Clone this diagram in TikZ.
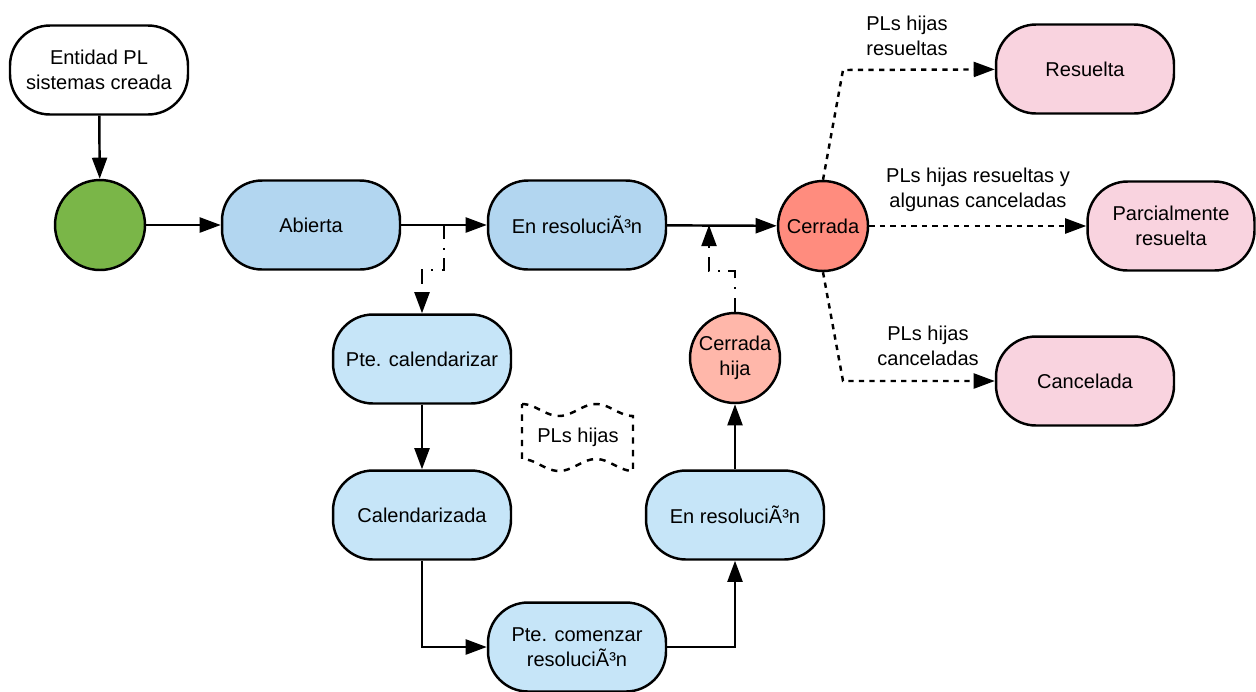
\documentclass[tikz,border=0pt]{standalone}
\usepackage{fontspec}
\setmainfont{Liberation Sans}
\usetikzlibrary{arrows.meta}
\definecolor{verde}{HTML}{7AB648}
\definecolor{azul}{HTML}{B2D6F0}
\definecolor{azulclaro}{HTML}{C6E5F8}
\definecolor{rojo}{HTML}{FF8C7E}
\definecolor{rojoclaro}{HTML}{FFB7AA}
\definecolor{rosa}{HTML}{F9D3DF}
\begin{document}
\begin{tikzpicture}[x=0.02cm, y=-0.02cm, line width=1.4pt,
        every node/.style={font=\fontsize{11.4}{14}\selectfont, align=center},
        estado/.style={draw, rounded corners=0.8cm, minimum width=3.56cm, minimum height=1.78cm},
        circulo/.style={draw, circle, minimum size=1.8cm, inner sep=0pt},
        flecha/.style={-{Triangle[length=12pt,width=8.5pt]}},
        punteado/.style={flecha, dash pattern=on 3pt off 3pt},
        rayapunto/.style={flecha, dash pattern=on 8pt off 5pt on 1pt off 5pt}]
        \useasboundingbox (0,0) rectangle (1256,691);
        \node[estado] (entidad) at (99,70) {Entidad PL\\sistemas creada};
        \node[circulo, fill=verde] (inicio) at (100,225) {};
        \node[estado, fill=azul] (abierta) at (311,225) {Abierta};
        \node[estado, fill=azul] (enres) at (577,225) {En resoluciÃ³n};
        \node[circulo, fill=rojo] (cerrada) at (823,226) {Cerrada};
        \node[estado, fill=rosa] (resuelta) at (1085,69) {Resuelta};
        \node[estado, fill=rosa, minimum width=3.34cm] (parcial) at (1171,226) {Parcialmente\\resuelta};
        \node[estado, fill=rosa] (cancelada) at (1085,381) {Cancelada};
        \node[estado, fill=azulclaro] (ptecal) at (422,359) {Pte. calendarizar};
        \node[estado, fill=azulclaro] (calend) at (422,515) {Calendarizada};
        \node[estado, fill=azulclaro] (ptecom) at (577,647) {Pte. comenzar\\resoluciÃ³n};
        \node[estado, fill=azulclaro] (enres2) at (735,515) {En resoluciÃ³n};
        \node[circulo, fill=rojoclaro] (hija) at (735,358) {Cerrada\\hija};
        \draw[dash pattern=on 3.6pt off 3.6pt]
            plot[domain=522:633, samples=40] (\x, {410-6*cos(4.865*(\x-522))}) --
            plot[domain=633:522, samples=40] (\x, {465-6*cos(4.865*(\x-522))}) -- cycle;
        \node (hijas) at (578,437) {PLs hijas};
        \coordinate (j1) at (444,225);
        \coordinate (j2) at (709,225);
        \coordinate (kr) at (843,70);
        \coordinate (kc) at (843,381);
        \draw[flecha] (entidad) -- (inicio);
        \draw[flecha] (inicio) -- (abierta);
        \draw[flecha] (abierta) -- (enres);
        \draw[flecha] (enres) -- (cerrada);
        \draw[rayapunto] (j1) -- ++(0,45) -| (ptecal);
        \draw[rayapunto] (hija) -- ++(0,-87) -| (j2);
        \draw[flecha] (ptecal) -- (calend);
        \draw[flecha] (calend) |- (ptecom);
        \draw[flecha] (ptecom) -| (enres2);
        \draw[flecha] (enres2) -- (hija);
        \draw[punteado] (cerrada.north) -- (kr) -- (resuelta);
        \draw[punteado] (cerrada) -- (parcial);
        \draw[punteado] (cerrada.south) -- (kc) -- (cancelada);
        \node (etq1) at (907,36) {PLs hijas\\resueltas};
        \node (etq2) at (978,190) {PLs hijas resueltas y\\algunas canceladas};
        \node (etq3) at (928,346) {PLs hijas\\canceladas};
    \end{tikzpicture}
\end{document}
